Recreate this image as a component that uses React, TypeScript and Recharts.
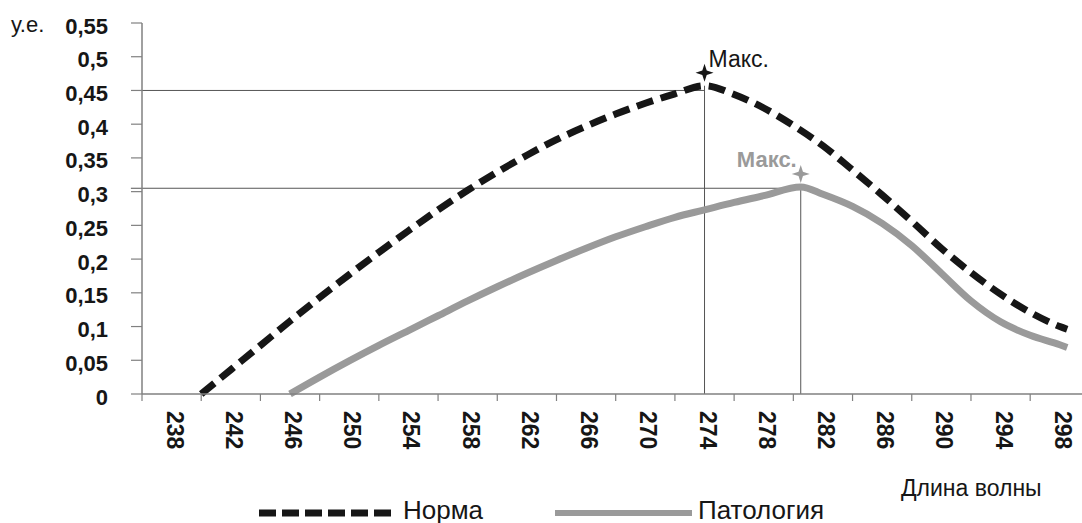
import React from "react";
import {
  LineChart, Line, XAxis, YAxis, ReferenceLine, ReferenceDot,
} from "recharts";

// wavelengths (nm) and absorbance
const WAVE_NORMA = [
  240, 242, 244, 246, 248, 250, 252, 254, 256, 258, 260, 262, 264, 266, 268, 270,
  272, 274, 276, 278, 280, 282, 284, 286, 288, 290, 292, 294, 296, 298, 298.5,
];
const NORMA = [
  0, 0.036, 0.072, 0.108, 0.143, 0.177, 0.21, 0.242, 0.273, 0.302, 0.329, 0.354, 0.377, 0.397, 0.415, 0.431,
  0.445, 0.457, 0.444, 0.424, 0.398, 0.368, 0.332, 0.295, 0.256, 0.216, 0.18, 0.148, 0.121, 0.1, 0.096,
];

const WAVE_PATOLOGY = [
  246, 248, 250, 252, 254, 256, 258, 260, 262, 264, 266, 268, 270, 272, 274, 276,
  278, 280.5, 282, 284, 286, 288, 290, 292, 294, 296, 298, 298.5,
];
const PATOLOGY = [
  0, 0.025, 0.049, 0.072, 0.094, 0.116, 0.138, 0.159, 0.179, 0.198, 0.216, 0.233, 0.248, 0.262, 0.273, 0.284,
  0.294, 0.307, 0.296, 0.278, 0.253, 0.22, 0.179, 0.138, 0.107, 0.087, 0.073, 0.069,
];

// levels of the thin guide lines to the maxima
const MAX_LEVELS = [0.45, 0.305];

const Y_TICKS = [0, 0.05, 0.1, 0.15, 0.2, 0.25, 0.3, 0.35, 0.4, 0.45, 0.5, 0.55];
const X_BOUNDS = [236, 240, 244, 248, 252, 256, 260, 264, 268, 272, 276, 280, 284, 288, 292, 296];
const X_LABELS = [238, 242, 246, 250, 254, 258, 262, 266, 270, 274, 278, 282, 286, 290, 294, 298];

const FONT = "'Liberation Sans', Arial, sans-serif";
const AXIS = "#808080";
const GRAY = "#9a9a9a";
const INK = "#161616";

const normaData = WAVE_NORMA.map((x, i) => ({ x, y: NORMA[i] }));
const patologyData = WAVE_PATOLOGY.map((x, i) => ({ x, y: PATOLOGY[i] }));

const peakOf = (d: { x: number; y: number }[]) => d.reduce((a, b) => (b.y > a.y ? b : a));
const normaPeak = peakOf(normaData);
const patologyPeak = peakOf(patologyData);

const fmt = (v: number) => String(Math.round(v * 100) / 100).replace(".", ",");

function YTick({ x, y, payload }: any) {
  return (
    <text x={x} y={y + 3} textAnchor="end" dominantBaseline="central"
      style={{ fontFamily: FONT, fontSize: 22, fontWeight: 700, fill: INK }}>
      {fmt(payload.value)}
    </text>
  );
}

function XTick({ x, y, payload }: any) {
  if (!X_LABELS.includes(payload.value)) {
    return <line x1={x} y1={y} x2={x} y2={y + 7} stroke={AXIS} strokeWidth={1.2} />;
  }
  const ty = y + 17;
  return (
    <text x={x + 3} y={ty} transform={`rotate(90 ${x + 3} ${ty})`} textAnchor="start" dominantBaseline="central"
      style={{ fontFamily: FONT, fontSize: 23, fontWeight: 700, fill: INK }}>
      {payload.value}
    </text>
  );
}

function star(cx: number, cy: number, r: number, k: number) {
  return `M${cx},${cy - r} L${cx + k},${cy - k} L${cx + r},${cy} L${cx + k},${cy + k} ` +
    `L${cx},${cy + r} L${cx - k},${cy + k} L${cx - r},${cy} L${cx - k},${cy - k} Z`;
}

function MaxMark({ cx, cy, color, bold, side, size }: any) {
  const sy = cy - 13;
  return (
    <g>
      <path d={star(cx, sy, 9, 2.2)} fill={color} />
      <text x={side === "right" ? cx + 4 : cx - 4} y={sy - 14} textAnchor={side === "right" ? "start" : "end"}
        dominantBaseline="central"
        style={{ fontFamily: FONT, fontSize: size, fontWeight: bold ? 700 : 400, fill: color }}>
        Макс.
      </text>
    </g>
  );
}

export default function App() {
  return (
    <div style={{ position: "absolute", left: 0, top: 0, width: 1082, height: 523, background: "#fff", fontFamily: FONT }}>
      <LineChart width={1082} height={523} margin={{ top: 23, right: 0, bottom: 0, left: 0 }}>
        <XAxis type="number" dataKey="x" domain={[236, 299.5]} ticks={[...X_BOUNDS, ...X_LABELS].sort((a, b) => a - b)}
          interval={0} height={129} tickSize={0} tickMargin={0} tickLine={false}
          axisLine={{ stroke: AXIS, strokeWidth: 1.5 }} tick={<XTick />} />
        <YAxis type="number" domain={[0, 0.55]} ticks={Y_TICKS} interval={0} width={142}
          tickSize={11} tickMargin={23} axisLine={{ stroke: AXIS, strokeWidth: 1.5 }}
          tickLine={{ stroke: AXIS, strokeWidth: 1.2 }} tick={<YTick />} />

        <ReferenceLine segment={[{ x: 236, y: MAX_LEVELS[0] }, { x: normaPeak.x, y: MAX_LEVELS[0] }]}
          stroke="#555" strokeWidth={1} ifOverflow="visible" />
        <ReferenceLine segment={[{ x: 235.25, y: MAX_LEVELS[1] }, { x: patologyPeak.x, y: MAX_LEVELS[1] }]}
          stroke="#555" strokeWidth={1} ifOverflow="visible" />
        <ReferenceLine segment={[{ x: normaPeak.x, y: 0 }, { x: normaPeak.x, y: normaPeak.y }]}
          stroke="#555" strokeWidth={1} />
        <ReferenceLine segment={[{ x: patologyPeak.x, y: 0 }, { x: patologyPeak.x, y: patologyPeak.y }]}
          stroke="#555" strokeWidth={1} />

        <Line data={patologyData} dataKey="y" type="monotone" stroke={GRAY} strokeWidth={7}
          dot={false} activeDot={false} isAnimationActive={false} />
        <Line data={normaData} dataKey="y" type="monotone" stroke={INK} strokeWidth={7} strokeDasharray="17 8"
          dot={false} activeDot={false} isAnimationActive={false} />

        <ReferenceDot x={normaPeak.x} y={normaPeak.y} r={1}
          shape={(p: any) => <MaxMark {...p} color={INK} side="right" size={23} />} />
        <ReferenceDot x={patologyPeak.x} y={patologyPeak.y} r={1}
          shape={(p: any) => <MaxMark {...p} color={GRAY} bold side="left" size={22} />} />
      </LineChart>

      <div style={{ position: "absolute", left: 11, top: 12, fontSize: 22, color: INK, lineHeight: "26px" }}>у.е.</div>
      <div style={{ position: "absolute", left: 901, top: 475, fontSize: 23, color: INK, lineHeight: "26px" }}>Длина волны</div>

      <svg style={{ position: "absolute", left: 0, top: 0 }} width={1082} height={523}>
        <line x1={259} y1={513} x2={395} y2={513} stroke={INK} strokeWidth={7} strokeDasharray="17 6" />
        <line x1={555} y1={513} x2={692} y2={513} stroke={GRAY} strokeWidth={6} />
      </svg>
      <div style={{ position: "absolute", left: 403, top: 498, fontSize: 26, color: INK, lineHeight: "25px" }}>Норма</div>
      <div style={{ position: "absolute", left: 698, top: 498, fontSize: 26, color: INK, lineHeight: "25px" }}>Патология</div>
    </div>
  );
}
